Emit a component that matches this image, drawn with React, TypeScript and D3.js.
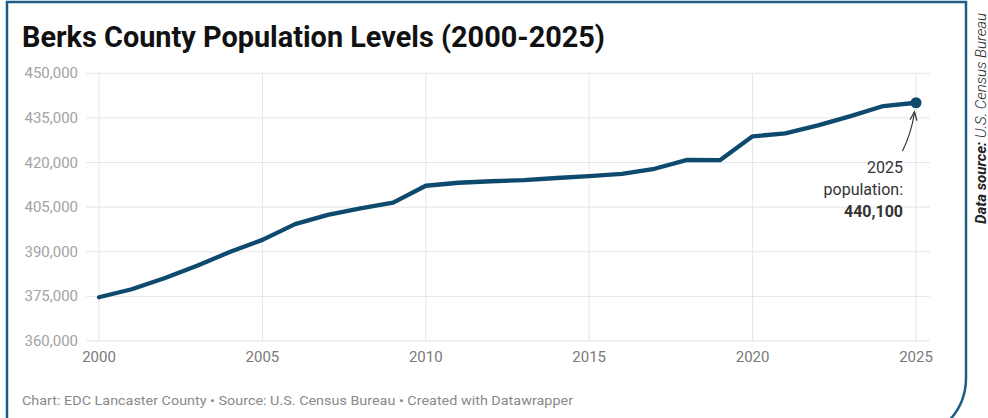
import React from "react";
import * as d3 from "d3";

const years = [2000,2001,2002,2003,2004,2005,2006,2007,2008,2009,2010,2011,2012,2013,2014,2015,2016,2017,2018,2019,2020,2021,2022,2023,2024,2025];
const population = [374700,377400,381100,385300,389900,394000,399300,402400,404600,406500,412200,413200,413700,414100,414800,415400,416200,417900,420900,420800,428800,429800,432500,435600,439000,440100];
const yTicks = [360000,375000,390000,405000,420000,435000,450000];
const xTicks = [2000,2005,2010,2015,2020,2025];

const W = 988, H = 418;
const LINE = "#0d4a6e";
const BORDER = "#1d5c86";

export default function App() {
  const x = d3.scaleLinear().domain([2000, 2025]).range([99, 916]);
  const y = d3.scaleLinear().domain([360000, 450000]).range([341, 73.3]);
  const fmt = d3.format(",");
  const line = d3.line<number>().x((_, i) => x(years[i])).y((d) => y(d));
  const lastX = x(years[years.length - 1]);
  const lastY = y(population[population.length - 1]);
  const r = 62;
  const framePath = `M7,2 L966,2 L966,${440 - r} A${r},${r} 0 0 1 ${966 - r},440 L7,440 Z`;
  return (
    <svg width={W} height={H} style={{ position: "absolute", left: 0, top: 0, background: "#fff" }} fontFamily="Roboto, sans-serif">
      <path d={framePath} fill="#fff" stroke={BORDER} strokeWidth={2.5} />
      <text x={22} y={47} fontSize={29} fontWeight={700} fill="#111" textLength={583} lengthAdjust="spacingAndGlyphs">Berks County Population Levels (2000-2025)</text>
      {yTicks.map((t) => (
        <g key={t}>
          <line x1={86} x2={930} y1={y(t)} y2={y(t)} stroke="#e6e6e6" strokeWidth={1} />
          <text x={78} y={y(t) + 5} textAnchor="end" fontSize={15} fill="#a3a3a3">{fmt(t)}</text>
        </g>
      ))}
      {xTicks.map((t) => (
        <g key={t}>
          <line x1={x(t)} x2={x(t)} y1={73.3} y2={341} stroke="#e6e6e6" strokeWidth={1} />
          <text x={x(t)} y={362} textAnchor="middle" fontSize={15} fill="#7a7a7a">{t}</text>
        </g>
      ))}
      <path d={line(population) || ""} fill="none" stroke={LINE} strokeWidth={4.3} strokeLinejoin="round" strokeLinecap="round" />
      <circle cx={lastX} cy={lastY} r={5.5} fill={LINE} />
      <path d={`M902.5,151 Q911,134 914.5,${lastY + 10}`} fill="none" stroke="#333" strokeWidth={1.2} />
      <path d={`M910,${lastY + 17} L914.5,${lastY + 9} L917,${lastY + 18}`} fill="none" stroke="#333" strokeWidth={1.2} />
      <g fontSize={16} fill="#333" textAnchor="end">
        <text x={903} y={173}>2025</text>
        <text x={903} y={195}>population:</text>
        <text x={903} y={217} fontWeight={700}>{fmt(population[population.length - 1])}</text>
      </g>
      <text x={22} y={405} fontSize={13} fill="#8a8a8a" textLength={551} lengthAdjust="spacingAndGlyphs">Chart: EDC Lancaster County • Source: U.S. Census Bureau • Created with Datawrapper</text>
      <text transform="translate(986,224) rotate(-90)" fontSize={15} fill="#222" fontStyle="italic">
        <tspan fontWeight={700}>Data source: </tspan>
        <tspan fontWeight={300}>U.S. Census Bureau</tspan>
      </text>
    </svg>
  );
}
